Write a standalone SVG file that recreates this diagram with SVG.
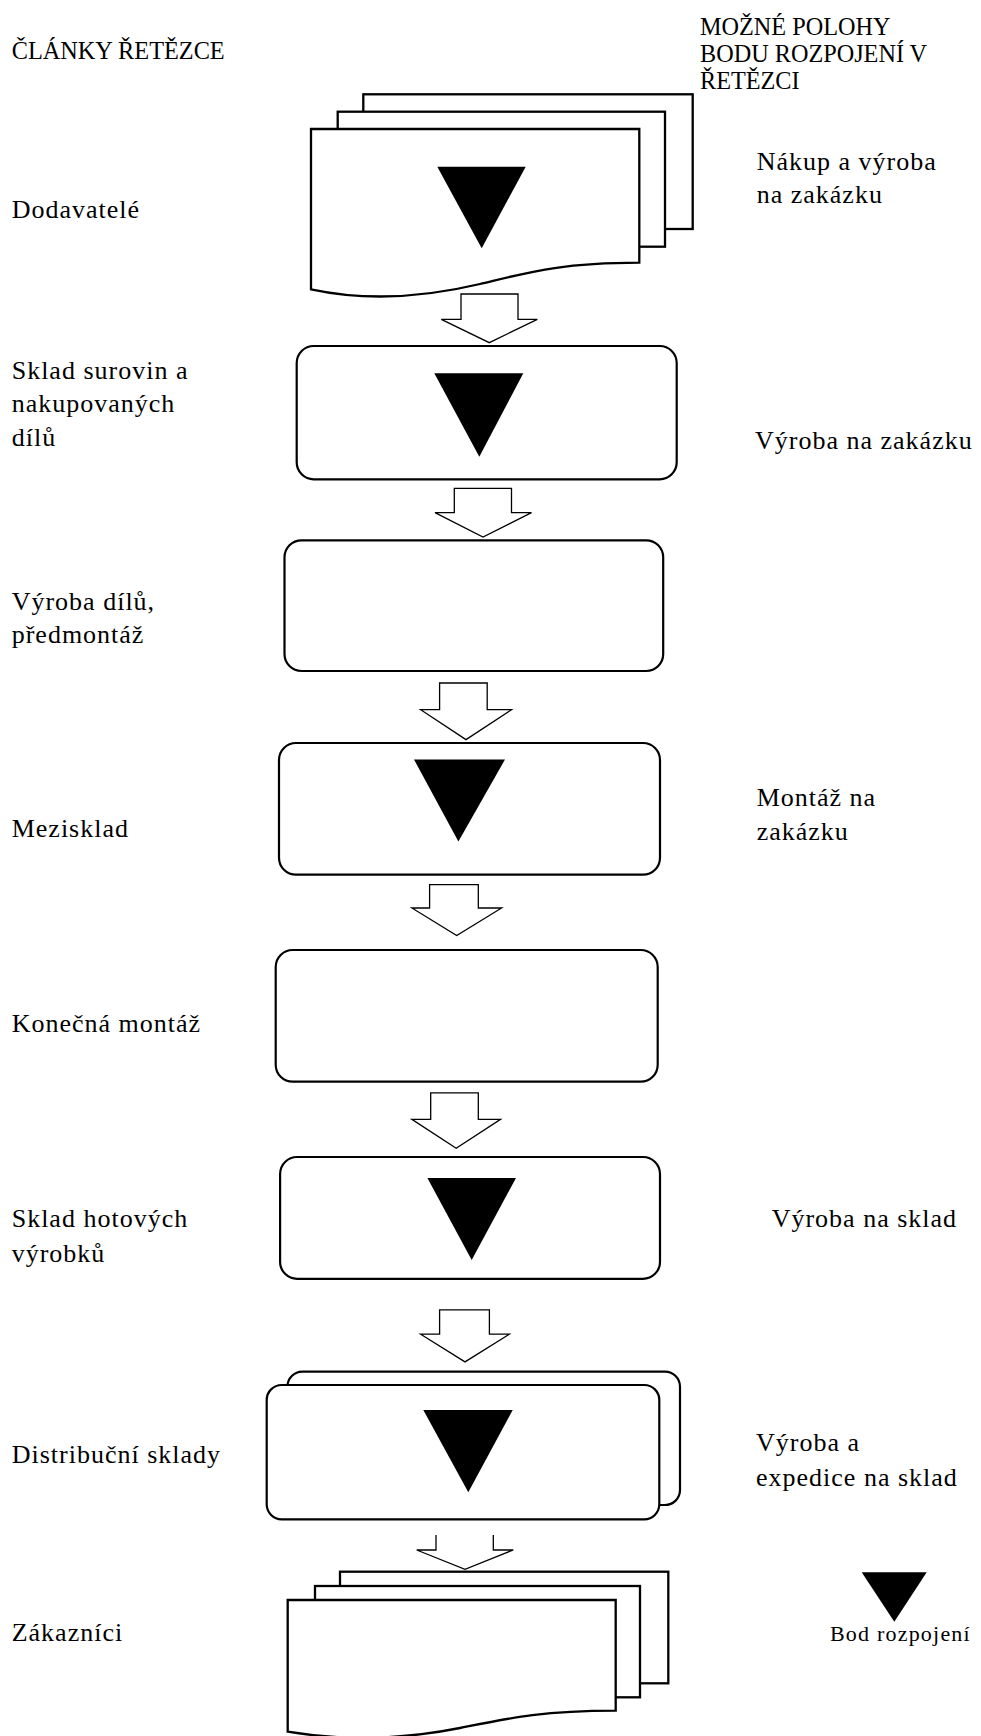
<svg xmlns="http://www.w3.org/2000/svg" width="981" height="1736" viewBox="0 0 981 1736">
<style>
.pg{fill:#fff;stroke:#000;stroke-width:2.3}
.bx{fill:#fff;stroke:#000;stroke-width:2.2}
.tri{fill:#000;stroke:none}
.ar{fill:#fff;stroke:#000;stroke-width:1.3;stroke-linejoin:miter}
text{font-family:'Liberation Serif','Times New Roman',Times,serif;fill:#000}
.hd{font-size:24.3px}
.hd2{font-size:25px}
.lb{font-size:26px;letter-spacing:1px}
.lg{font-size:22px;letter-spacing:1.2px}
</style>
<rect width="981" height="1736" fill="#fff"/>

<g id="headers">
<text class="hd" x="11.7" y="59.3">ČLÁNKY ŘETĚZCE</text>
<g transform="translate(700,0) scale(0.97,1)">
<text class="hd2" x="0" y="35"><tspan x="0">MOŽNÉ POLOHY</tspan><tspan x="0" y="62">BODU ROZPOJENÍ V</tspan><tspan x="0" y="89">ŘETĚZCI</tspan></text>
</g>
</g>

<g id="connectors">
<polygon class="ar" points="461,294 518,294 518,319.3 537.3,319.3 489.3,342.7 441.3,319.3 461,319.3"/>
<polygon class="ar" points="454.3,488.3 511.5,488.3 511.5,512.6 531.5,512.6 483,537 435,512.6 454.3,512.6"/>
<polygon class="ar" points="439.6,683 487.2,683 487.2,709.7 511.5,709.7 466,739.6 420.7,709.7 439.6,709.7"/>
<polygon class="ar" points="429.6,884.6 478.3,884.6 478.3,908 501.6,908 456.7,935.6 411.9,908 429.6,908"/>
<polygon class="ar" points="430.7,1092.8 478.3,1092.8 478.3,1119.4 500.5,1119.4 456.2,1148.2 411.9,1119.4 430.7,1119.4"/>
<polygon class="ar" points="439.6,1309.8 489.4,1309.8 489.4,1334.2 509.3,1334.2 465,1361.9 420.7,1334.2 439.6,1334.2"/>
<path class="ar" d="M436,1535 V1550 H416.7 L465,1569.3 L513.3,1550 H493.3 V1535"/>
</g>

<g id="node-dodavatele">
<rect class="pg" x="363.3" y="94.3" width="329.4" height="134.7"/>
<rect class="pg" x="337.7" y="111.7" width="327.3" height="135"/>
<path class="pg" d="M311,129 H639.3 V262.7 C560,263 530,272 480,284 C430,296 370,302 311,289.3 Z"/>
<polygon class="tri" points="437.3,166.7 525.7,166.7 481.7,248.3"/>
<text class="lb" x="11.7" y="218.3">Dodavatelé</text>
<text class="lb" x="756.7" y="170"><tspan x="756.7">Nákup a výroba</tspan><tspan x="756.7" y="203.3">na zakázku</tspan></text>
</g>

<g id="node-sklad-surovin">
<rect class="bx" x="296.7" y="346" width="380" height="133.3" rx="17"/>
<polygon class="tri" points="434.3,373.3 523.3,373.3 479.3,456.7"/>
<text class="lb" x="11.7" y="379"><tspan x="11.7">Sklad surovin a</tspan><tspan x="11.7" y="412.3">nakupovaných</tspan><tspan x="11.7" y="445.6">dílů</tspan></text>
<text class="lb" x="755" y="448.5">Výroba na zakázku</text>
</g>

<g id="node-vyroba-dilu">
<rect class="bx" x="284.5" y="540.3" width="378.7" height="130.7" rx="17"/>
<text class="lb" x="11.7" y="610"><tspan x="11.7">Výroba dílů,</tspan><tspan x="11.7" y="643.3">předmontáž</tspan></text>
</g>

<g id="node-mezisklad">
<rect class="bx" x="279" y="743" width="381" height="131.7" rx="17"/>
<polygon class="tri" points="414,759.5 505,759.5 458.4,841.5"/>
<text class="lb" x="11.7" y="836.7">Mezisklad</text>
<text class="lb" x="756.7" y="805.7"><tspan x="756.7">Montáž na</tspan><tspan x="756.7" y="840">zakázku</tspan></text>
</g>

<g id="node-konecna-montaz">
<rect class="bx" x="275.7" y="950" width="382" height="131.7" rx="17"/>
<text class="lb" x="11.7" y="1032">Konečná montáž</text>
</g>

<g id="node-sklad-hotovych">
<rect class="bx" x="280.1" y="1157" width="379.9" height="121.8" rx="17"/>
<polygon class="tri" points="427.4,1178 516,1178 471.7,1260"/>
<text class="lb" x="11.7" y="1226.8"><tspan x="11.7">Sklad hotových</tspan><tspan x="11.7" y="1262">výrobků</tspan></text>
<text class="lb" x="771.7" y="1226.8">Výroba na sklad</text>
</g>

<g id="node-distribucni">
<rect class="bx" x="287.4" y="1371.7" width="392.6" height="133.3" rx="15" stroke="#222"/>
<rect class="bx" x="266.7" y="1385" width="392.6" height="134.3" rx="15" stroke="#222"/>
<polygon class="tri" points="423.3,1410 512.7,1410 468.3,1492.3"/>
<text class="lb" x="11.7" y="1462.6">Distribuční sklady</text>
<text class="lb" x="756" y="1450.5"><tspan x="756">Výroba a</tspan><tspan x="756" y="1485.8">expedice na sklad</tspan></text>
</g>

<g id="node-zakaznici">
<rect class="pg" x="340" y="1571.7" width="328.3" height="111.6"/>
<rect class="pg" x="315" y="1586" width="325" height="111.3"/>
<path class="pg" d="M287.7,1600 H615.7 V1710.7 C540,1711 510,1718 460,1728 C410,1738 350,1742 287.7,1731.7 Z"/>
<text class="lb" x="11.7" y="1641">Zákazníci</text>
</g>

<g id="legend">
<polygon class="tri" points="861.7,1572.3 926.7,1572.3 894.3,1621.7"/>
<text class="lg" x="830" y="1640.7">Bod rozpojení</text>
</g>
</svg>
